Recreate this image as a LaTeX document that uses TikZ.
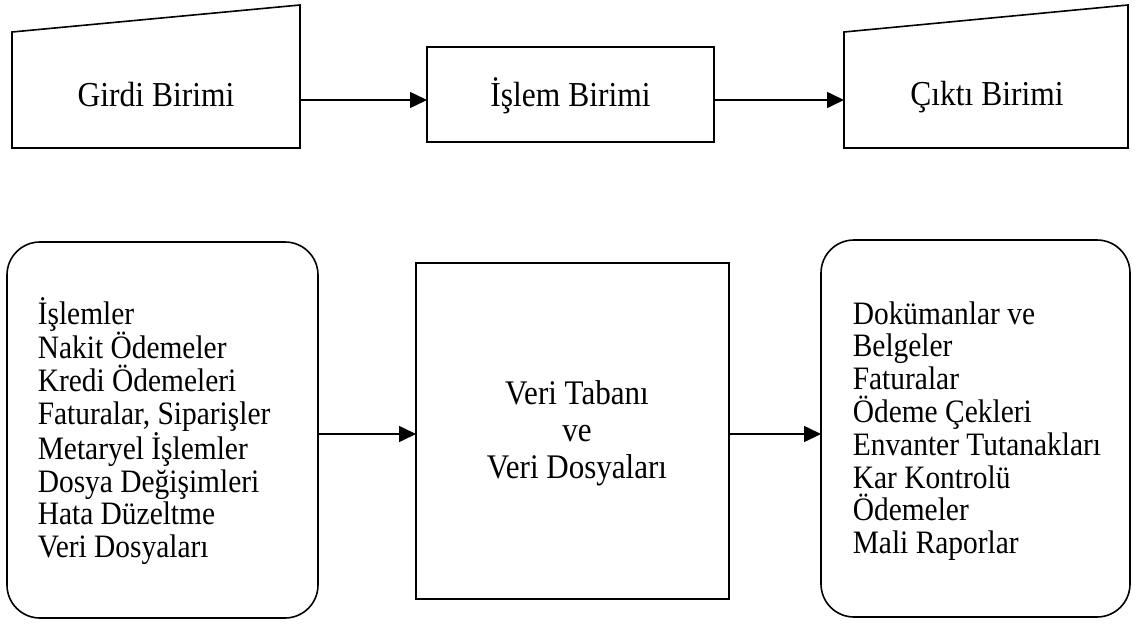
\documentclass[tikz,border=0pt]{standalone}
\usepackage{fontspec}
\setmainfont{Liberation Serif}
\newfontfamily\narrowserif[FakeStretch=0.9]{Liberation Serif}
\usetikzlibrary{arrows.meta}
\begin{document}
\begin{tikzpicture}[x=1pt,y=-1pt,
  line width=1.6pt,
  arr/.style={-{Triangle[length=17pt,width=16pt]}},
  plain/.style={draw=none,inner sep=0pt,outer sep=0pt},
  boxed/.style={draw,inner sep=0pt,outer sep=0pt},
  rbox/.style={draw,inner sep=0pt,outer sep=0pt,rounded corners=33pt},
  toptext/.style={inner sep=0pt,font=\narrowserif\fontsize{35}{38}\selectfont},
  listtext/.style={inner sep=0pt,align=left,font=\narrowserif\fontsize{32.7}{32.8}\selectfont},
  midtext/.style={inner sep=0pt,align=center,font=\narrowserif\fontsize{34.5}{37}\selectfont}]
\useasboundingbox (0,0) rectangle (1135,624);

% top row
\node[plain,minimum width=288pt,minimum height=116pt] (girdi) at (156,90) {};
\draw (girdi.south west) -- (girdi.south east) -- ([yshift=27pt]girdi.north east) -- (girdi.north west) -- cycle;
\node[toptext] (girdiT) at (156,95) {Girdi Birimi};

\node[boxed,minimum width=287pt,minimum height=95pt] (islem) at (570.5,94.5) {};
\node[toptext] (islemT) at (570.5,96) {İşlem Birimi};

\node[plain,minimum width=284pt,minimum height=116pt] (cikti) at (986,90) {};
\draw (cikti.south west) -- (cikti.south east) -- ([yshift=27pt]cikti.north east) -- (cikti.north west) -- cycle;
\node[toptext] (ciktiT) at (987,97) {Çıktı Birimi};

\coordinate (a1) at (0,100);
\draw[arr] (girdi.east |- a1) -- (islem.west |- a1);
\draw[arr] (islem.east |- a1) -- (cikti.west |- a1);

% bottom row
\node[rbox,minimum width=311pt,minimum height=376pt] (lbox) at (162.5,430) {};
\node[listtext,anchor=west] (lboxT) at (37,431) {İşlemler\\Nakit Ödemeler\\Kredi Ödemeleri\\Faturalar, Siparişler\\Metaryel İşlemler\\Dosya Değişimleri\\Hata Düzeltme\\Veri Dosyaları};

\node[boxed,minimum width=313pt,minimum height=336pt] (db) at (572.5,431) {};
\node[midtext] (dbT) at (577,433) {Veri Tabanı\\ve\\Veri Dosyaları};

\node[rbox,minimum width=309pt,minimum height=377pt] (rbox) at (975.5,428.5) {};
\node[listtext,anchor=west] (rboxT) at (852,431) {Dokümanlar ve\\Belgeler\\Faturalar\\Ödeme Çekleri\\Envanter Tutanakları\\Kar Kontrolü\\Ödemeler\\Mali Raporlar};

\coordinate (a2) at (0,434);
\draw[arr] (lbox.east |- a2) -- (db.west |- a2);
\draw[arr] (db.east |- a2) -- (rbox.west |- a2);
\end{tikzpicture}
\end{document}
